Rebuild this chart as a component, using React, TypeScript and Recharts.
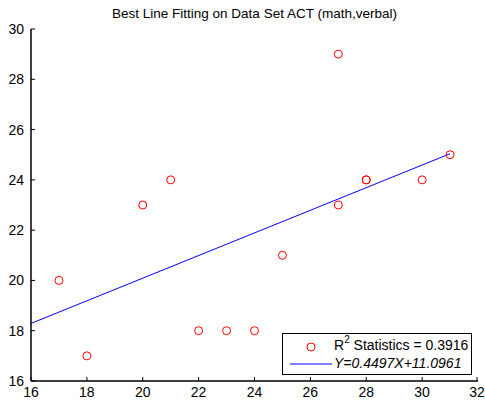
import React from 'react'
import { ComposedChart, Scatter, Line, XAxis, YAxis, Legend } from 'recharts'

document.body.style.margin = '0'

// ACT scores: math (x) vs verbal (y)
const mathScores = [17, 18, 20, 21, 22, 23, 24, 25, 27, 27, 28, 28, 30, 31]
const verbalScores = [20, 17, 23, 24, 18, 18, 18, 21, 29, 23, 24, 24, 24, 25]

// fitted line Y=0.4497X+11.0961, endpoints
const fitX = [16, 31]
const fitY = [18.29, 25.04]

const xTicks = [16, 18, 20, 22, 24, 26, 28, 30, 32]
const yTicks = [16, 18, 20, 22, 24, 26, 28, 30]

const r2Label = '0.3916'
const fitLabel = 'Y=0.4497X+11.0961'

const points = mathScores.map((x, i) => ({ x, y: verbalScores[i] }))
const fitLine = fitX.map((x, i) => ({ x, y: fitY[i] }))

const font = '"Liberation Sans", Arial, Helvetica, sans-serif'
const TICK = 4
const GAP = 6

const Ring = (p: any) => (
  <circle cx={p.cx} cy={p.cy} r={4} fill="none" stroke="#ff0000" strokeWidth={1} />
)

// inward tick marks, drawn from the text anchor the axis hands over
const BottomTick = (p: any) => {
  const axisY = p.y - GAP
  return (
    <g>
      <line x1={p.x} x2={p.x} y1={axisY} y2={axisY - TICK} stroke="#000" />
      <text x={p.x} y={p.y} dy="0.71em" textAnchor="middle" fill="#000" fontSize={14} fontFamily={font}>
        {p.payload.value}
      </text>
    </g>
  )
}
const LeftTick = (p: any) => {
  const axisX = p.x + GAP
  return (
    <g>
      <line x1={axisX} x2={axisX + TICK} y1={p.y} y2={p.y} stroke="#000" />
      <text x={p.x - 1} y={p.y} dy="0.355em" textAnchor="end" fill="#000" fontSize={14} fontFamily={font}>
        {p.payload.value}
      </text>
    </g>
  )
}
const TopTick = (p: any) => {
  const axisY = p.y + GAP
  return <line x1={p.x} x2={p.x} y1={axisY} y2={axisY + TICK} stroke="#000" />
}
const RightTick = (p: any) => {
  const axisX = p.x - GAP
  return <line x1={axisX} x2={axisX - TICK} y1={p.y} y2={p.y} stroke="#000" />
}

const LegendBox = () => (
  <div
    style={{
      width: 188,
      height: 40,
      border: '1px solid #000',
      background: '#fff',
      fontFamily: font,
      fontSize: 14,
      color: '#000',
      position: 'relative',
    }}
  >
    <svg width={50} height={40} style={{ position: 'absolute', left: 0, top: 0 }}>
      <circle cx={28} cy={13} r={4} fill="none" stroke="#ff0000" />
      <line x1={7} y1={30} x2={49} y2={30} stroke="#0000ff" />
    </svg>
    <div style={{ position: 'absolute', left: 51, top: 3, whiteSpace: 'nowrap' }}>
      R<sup style={{ fontSize: 10, verticalAlign: 'top', position: 'relative', top: -3 }}>2</sup> Statistics = {r2Label}
    </div>
    <div style={{ position: 'absolute', left: 51, top: 21, whiteSpace: 'nowrap', fontStyle: 'italic' }}>
      {fitLabel}
    </div>
  </div>
)

export default function App() {
  const axisLine = { stroke: '#000', strokeWidth: 1.5 }
  return (
    <div style={{ position: 'relative', width: 485, height: 403, background: '#fff' }}>
      <div
        style={{
          position: 'absolute',
          left: 31,
          width: 447,
          top: 6,
          textAlign: 'center',
          fontFamily: font,
          fontSize: 13.5,
          color: '#000',
        }}
      >
        Best Line Fitting on Data Set ACT (math,verbal)
      </div>
      <ComposedChart
        width={485}
        height={403}
        margin={{ top: 29, right: 7, bottom: 0, left: 0 }}
      >
        <XAxis
          dataKey="x"
          type="number"
          domain={[16, 32]}
          ticks={xTicks}
          allowDataOverflow
          height={22}
          tickSize={0}
          tickMargin={GAP}
          tickLine={false}
          tick={BottomTick}
          axisLine={axisLine}
        />
        <XAxis
          xAxisId="top"
          orientation="top"
          dataKey="x"
          type="number"
          domain={[16, 32]}
          ticks={xTicks}
          allowDataOverflow
          height={0}
          tickSize={0}
          tickMargin={GAP}
          tickLine={false}
          tick={TopTick}
          axisLine={axisLine}
        />
        <YAxis
          dataKey="y"
          type="number"
          domain={[16, 30]}
          ticks={yTicks}
          allowDataOverflow
          width={31}
          tickSize={0}
          tickMargin={GAP}
          tickLine={false}
          tick={LeftTick}
          axisLine={axisLine}
        />
        <YAxis
          yAxisId="right"
          orientation="right"
          dataKey="y"
          type="number"
          domain={[16, 30]}
          ticks={yTicks}
          allowDataOverflow
          width={0}
          tickSize={0}
          tickMargin={GAP}
          tickLine={false}
          tick={RightTick}
          axisLine={axisLine}
        />
        <Line
          data={fitLine}
          dataKey="y"
          stroke="#0000ff"
          strokeWidth={1}
          dot={false}
          activeDot={false}
          isAnimationActive={false}
        />
        <Scatter data={points} dataKey="y" shape={Ring} isAnimationActive={false} />
        <Legend
          layout="horizontal"
          verticalAlign="middle"
          align="center"
          content={() => <LegendBox />}
          wrapperStyle={{ left: 282, top: 333, width: 190, height: 42 }}
        />
      </ComposedChart>
    </div>
  )
}
